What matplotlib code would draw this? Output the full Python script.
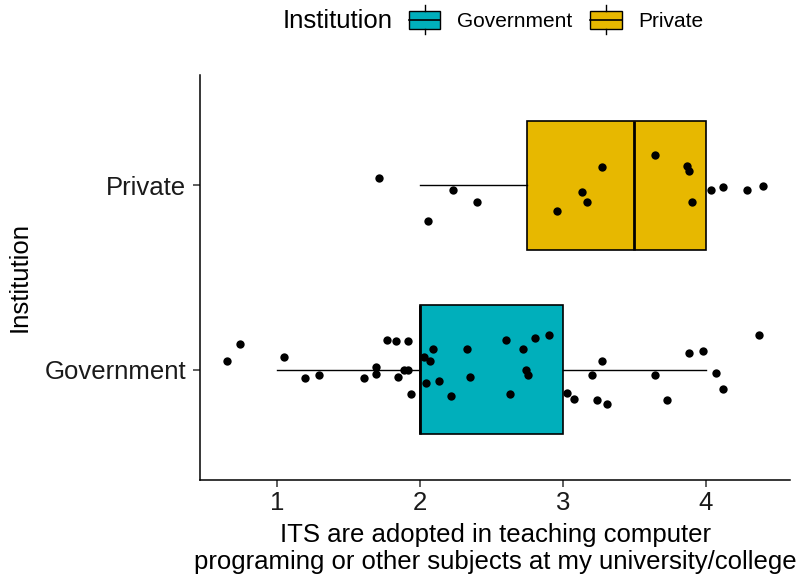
import numpy as np
import matplotlib
matplotlib.use("Agg")
import matplotlib.pyplot as plt
from matplotlib.legend_handler import HandlerBase
from matplotlib.patches import Rectangle
from matplotlib.lines import Line2D

plt.rcParams["font.family"] = ["Liberation Sans", "DejaVu Sans"]

# Groups, bottom to top
groups = ["Government", "Private"]
colors = ["#00AFBB", "#E7B800"]

# Likert responses (1-5) per group
gov_responses = [1] * 5 + [2] * 18 + [3] * 13 + [4] * 7
priv_responses = [2] * 4 + [3] * 4 + [4] * 8

# Jittered point positions (x, vertical offset from group centre)
gov_x = [0.650, 0.743, 1.047, 1.199, 1.295, 1.610, 1.690, 1.690, 1.770, 1.834,
         1.844, 1.887, 1.917, 1.917, 1.938, 2.031, 2.068, 2.090, 2.045, 2.135,
         2.218, 2.327, 2.348, 2.604, 2.630, 2.724, 2.745, 2.759, 2.804, 2.900,
         3.025, 3.076, 3.204, 3.239, 3.271, 3.310, 3.646, 3.729, 3.881, 3.977,
         4.070, 4.118, 4.374]
gov_dy = [0.049, 0.138, 0.067, -0.047, -0.029, -0.047, 0.013, -0.022, 0.163, 0.154,
          -0.038, -0.002, 0.000, 0.154, -0.134, 0.067, 0.049, 0.110, -0.072, -0.064,
          -0.143, 0.110, -0.038, 0.163, -0.134, 0.110, -0.002, -0.029, 0.172, 0.188,
          -0.125, -0.158, -0.029, -0.167, 0.049, -0.187, -0.029, -0.167, 0.092, 0.101,
          -0.020, -0.107, 0.188]
priv_x = [1.716, 2.055, 2.231, 2.396, 2.956, 3.132, 3.169, 3.271, 3.646, 3.868,
          3.881, 3.905, 4.033, 4.116, 4.284, 4.399]
priv_dy = [0.042, -0.194, -0.027, -0.089, -0.141, -0.036, -0.089, 0.101, 0.163, 0.105,
           0.076, -0.089, -0.027, -0.011, -0.027, -0.002]

responses = [gov_responses, priv_responses]
points_x = [gov_x, priv_x]
points_dy = [gov_dy, priv_dy]

fig = plt.figure(figsize=(8.02, 5.82), dpi=100)
ax = fig.add_axes([200 / 802, 102 / 582, 590 / 802, 405 / 582])

positions = [1, 2]
bp = ax.boxplot(responses, positions=positions, vert=False, widths=0.7,
                patch_artist=True, whis=1.5, showfliers=False, showcaps=False,
                zorder=2)
for patch, c in zip(bp["boxes"], colors):
    patch.set_facecolor(c)
    patch.set_edgecolor("black")
    patch.set_linewidth(1.2)
for med in bp["medians"]:
    med.set_color("black")
    med.set_linewidth(2.0)
for wh in bp["whiskers"]:
    wh.set_color("black")
    wh.set_linewidth(1.0)

for pos, xs, dys in zip(positions, points_x, points_dy):
    ax.scatter(xs, pos + np.array(dys), s=36, color="black", zorder=3,
               linewidths=0)

ax.set_xlim(0.4625, 4.5875)
ax.set_ylim(0.4, 2.6)
ax.set_xticks([1, 2, 3, 4])
ax.set_yticks(positions)
ax.set_yticklabels(groups)
for side in ["top", "right"]:
    ax.spines[side].set_visible(False)
for side in ["left", "bottom"]:
    ax.spines[side].set_linewidth(1.1)
ax.tick_params(axis="both", length=5, width=1.1, colors="#333333",
               labelcolor="#1a1a1a", labelsize=18.5, pad=3)
ax.tick_params(axis="y", pad=5)
ax.set_xlabel("ITS are adopted in teaching computer\nprograming or other subjects at my university/college",
              fontsize=18.5, linespacing=1.12, labelpad=6)
ax.set_ylabel("Institution", fontsize=18.5, labelpad=9)


# Legend keys drawn as small boxplots
class BoxKeyHandler(HandlerBase):
    def create_artists(self, legend, orig_handle, xdescent, ydescent,
                       width, height, fontsize, trans):
        fc = orig_handle.get_facecolor()
        x0, y0 = -xdescent, -ydescent
        w, h = width, height
        rect = Rectangle((x0, y0), w, h, facecolor=fc, edgecolor="black",
                         linewidth=1.0, transform=trans)
        xm = x0 + w / 2
        ym = y0 + h / 2
        mid = Line2D([x0, x0 + w], [ym, ym], color="black", lw=1.2, transform=trans)
        top = Line2D([xm, xm], [y0 + h, y0 + h + 4], color="black", lw=1.0, transform=trans)
        bot = Line2D([xm, xm], [y0 - 4, y0], color="black", lw=1.0, transform=trans)
        return [rect, mid, top, bot]


handles = [Rectangle((0, 0), 1, 1, facecolor=c) for c in colors]
fig.text(283 / 802, 1 - 21 / 582, "Institution", fontsize=18.5, va="center", ha="left")
fig.legend(handles, groups, loc="center left", bbox_to_anchor=(409 / 802, 1 - 21 / 582),
           ncol=2, frameon=False, fontsize=15, handler_map={Rectangle: BoxKeyHandler()},
           handlelength=1.5, handleheight=0.95, columnspacing=0.85, handletextpad=0.82,
           borderpad=0, borderaxespad=0)

fig.savefig("out.png", dpi=100)
